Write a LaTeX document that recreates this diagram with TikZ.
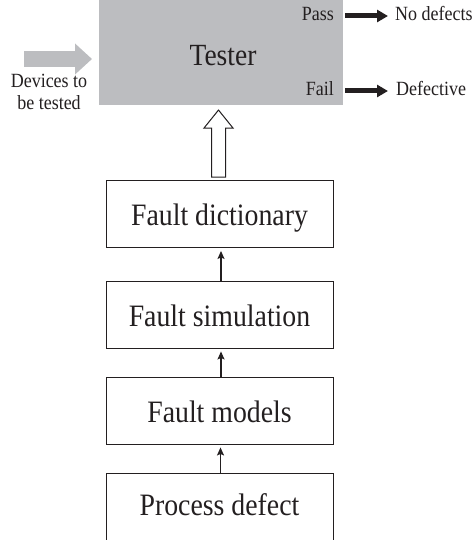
\documentclass[tikz,border=0pt]{standalone}
\usepackage{graphicx}
\usepackage{fontspec}
\setmainfont{Liberation Serif}
\usetikzlibrary{arrows.meta}
\definecolor{grayc}{HTML}{BCBDC0}
\definecolor{linec}{HTML}{231F20}
\newcommand{\vst}[1]{\scalebox{1}[1.12]{#1}}
\begin{document}
\begin{tikzpicture}[x=1pt,y=-1pt,
  box/.style={draw=linec, line width=0.9pt, minimum width=227pt, minimum height=67pt,
    inner sep=0pt, text height=23pt, text depth=0pt, text=linec,
    font=\fontsize{27.8}{30}\selectfont},
  small/.style={font=\fontsize{18}{22}\selectfont, inner sep=0pt, text=linec},
  conn/.style={draw=linec, line width=1.3pt, -{Stealth[length=8pt,width=7pt,inset=1.5pt]}, shorten >=3pt},
  bigarrow/.style={draw=linec, line width=5pt, -{Triangle[length=11pt,width=12pt]}},
  grayarrow/.style={draw=grayc, line width=16pt, -{Triangle[length=17pt,width=30pt]}},
  hollow/.style={draw=linec, fill=white, line width=1pt, line join=miter},
]
\useasboundingbox (0,0) rectangle (475,540);
\clip (0,0) rectangle (475,540);
% Tester
\node[fill=grayc, minimum width=244pt, minimum height=105pt, inner sep=0pt,
  anchor=north west] (tester) at (99,0) {};
\node[anchor=base, inner sep=0pt, text=linec, font=\fontsize{27.5}{30}\selectfont]
  (testerlbl) at (223,66) {\vst{Tester}};
\node[small, anchor=base east] (pass) at (334,21) {\vst{Pass}};
\node[small, anchor=base east] (fail) at (334,96) {\vst{Fail}};
\node[small, anchor=base west] (nodef) at (395,21) {\vst{No defects}};
\node[small, anchor=base west] (defective) at (396,96) {\vst{Defective}};
\node[small, anchor=base] (dev1) at (49,88) {\vst{Devices to}};
\node[small, anchor=base] (dev2) at (49,110) {\vst{be tested}};
% output arrows
\coordinate (pa) at (345,16);
\coordinate (pb) at (388,16);
\coordinate (fa) at (345,91);
\coordinate (fb) at (388,91);
\draw[bigarrow] (pa) -- (pb);
\draw[bigarrow] (fa) -- (fb);
% input arrow
\coordinate (ga) at (24,59);
\coordinate (gb) at (92,59);
\draw[grayarrow] (ga) -- (gb);
% boxes
\node[box] (dict) at (219.5,214) {\vst{Fault dictionary}};
\node[box] (sim) at (219.5,314.5) {\vst{Fault simulation}};
\node[box] (models) at (219.5,410.5) {\vst{Fault models}};
\node[box, minimum height=72pt, text height=12pt] (proc) at (219.5,509) {\vst{Process defect}};
% connectors
\draw[conn] ([xshift=1.5pt]sim.north) -- ([xshift=1.5pt]dict.south);
\draw[conn] ([xshift=1.5pt]models.north) -- ([xshift=1.5pt]sim.south);
\draw[conn] ([xshift=1pt]proc.north) -- ([xshift=1pt]models.south);
% hollow arrow to tester
\draw[hollow, shift={(dict.north)}] (-8,-3) -- (-8,-52) -- (-15.5,-52) -- (-1,-70)
  -- (13.5,-52) -- (6,-52) -- (6,-3) -- cycle;
\end{tikzpicture}
\end{document}
